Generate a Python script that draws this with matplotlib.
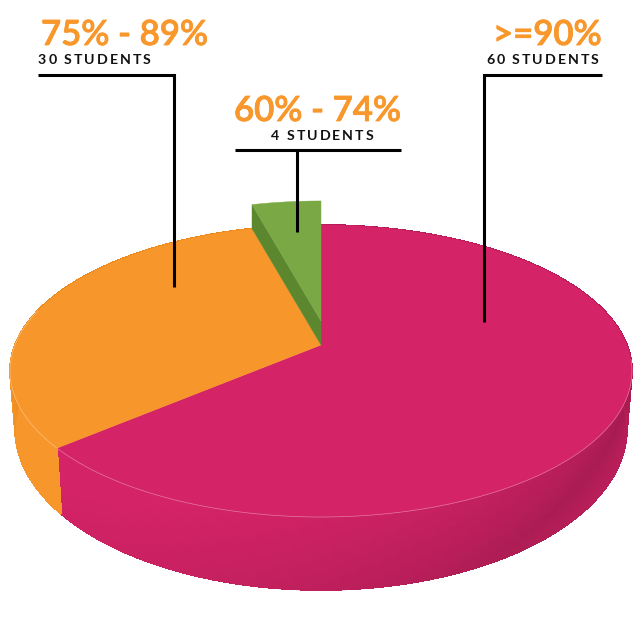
#!/usr/bin/env python3
"""Students per score band, drawn as a tilted 3D pie with a lifted slice."""
import numpy as np
import matplotlib

matplotlib.use("Agg")
import matplotlib.pyplot as plt
import matplotlib.patheffects as pe
from matplotlib.collections import LineCollection, PolyCollection
from matplotlib.colors import to_rgb
from matplotlib.text import Text

# === Data ===

BANDS = [">=90%", "75% - 89%", "60% - 74%"]
STUDENTS = [60, 30, 4]
COUNT_LABELS = ["60 STUDENTS", "30 STUDENTS", "4 STUDENTS"]

# === Style ===

CRIMSON = "#D42366"
ORANGE = "#F7962A"
GREEN = "#7AA845"
GREEN_DARK = "#5C872E"
LABEL_ORANGE = "#F8982C"

plt.rcParams["font.family"] = ["Lato", "Carlito", "DejaVu Sans"]

# perspective of the top and bottom rims, in picture pixels
APEX_X = 321
TOP = dict(b=306.0, a=141.4, y0=345.0)
BOTTOM = dict(b=301.0, a=155.9, y0=400.3)
K = 0.178
LIFT = 24


def rim(theta, b, a, y0):
    # theta is clockwise from 12 o'clock, radians
    u, v = np.sin(theta), np.cos(theta)
    d = 1 + K * v
    return APEX_X + b * u / d, y0 - a * v / d


def mix(color, other, f):
    c, o = np.array(to_rgb(color)), np.array(to_rgb(other))
    return tuple(c + (o - c) * f)


def crimson_shade(deg, t):
    # dark band runs slantwise over the wall
    eff = deg - 45 * t
    f = np.interp(eff, [60, 85, 108, 125, 160, 200], [0.7, 0.75, 1.0, 0.7, 0.3, 0.0])
    f = f * (1 - 0.2 * t)
    return mix(CRIMSON, "#A51B50", f)


def orange_shade(deg, t):
    f = np.interp(deg, [229, 255, 272, 290], [0.0, 0.0, 0.8, 1.0])
    return mix(ORANGE, "#E8871A", f)


class SpacedText(Text):
    """Single text artist with tracking, matplotlib has no letter spacing."""

    def __init__(self, x, y, text, spacing=0.0, **kw):
        super().__init__(x, y, text, **kw)
        self.spacing = spacing

    def draw(self, renderer):
        fp = self.get_fontproperties()
        x, y = self.get_transform().transform(self.get_position())
        gc = renderer.new_gc()
        gc.set_foreground(self.get_color())
        gc.set_antialiased(True)
        for ch in self.get_text():
            w, _, _ = renderer.get_text_width_height_descent(ch, fp, False)
            if ch == " ":
                w = fp.get_size_in_points() * renderer.points_to_pixels(1.0) * 0.25
            else:
                renderer.draw_text(gc, x, renderer.height - y, ch, fp, 0, False)
            x += w + self.spacing
        gc.restore()


# === Plot ===

fig = plt.figure(figsize=(6.4, 6.4), dpi=100)
ax = fig.add_axes([0, 0, 1, 1])
ax.set_xlim(0, 640)
ax.set_ylim(640, 0)
ax.axis("off")

edges = np.deg2rad(np.cumsum([0] + STUDENTS) / sum(STUDENTS) * 360)
crimson_range = (edges[0], edges[1])
orange_range = (edges[1], edges[2])
green_range = (edges[2], edges[3])

# side wall, small cells so the shading can slant
cells, cell_colors, foot, foot_colors = [], [], [], []
for (lo, hi), shade in [(crimson_range, crimson_shade), (orange_range, orange_shade)]:
    thetas = np.linspace(lo, hi, int(np.rad2deg(hi - lo) * 1.5) + 2)
    ts = np.linspace(0, 1, 13)
    for th0, th1 in zip(thetas[:-1], thetas[1:]):
        mid = np.rad2deg(th0 + th1) / 2
        for t0, t1 in zip(ts[:-1], ts[1:]):
            quad = []
            for th, t in [(th0, t0), (th1, t0), (th1, t1), (th0, t1)]:
                xt, yt = rim(th, **TOP)
                xb, yb = rim(th, **BOTTOM)
                quad.append((xt + (xb - xt) * t, yt + (yb - yt) * t))
            cells.append(quad)
            cell_colors.append(shade(mid, (t0 + t1) / 2))
        foot.append([rim(th0, **BOTTOM), rim(th1, **BOTTOM)])
        foot_colors.append(shade(mid, 1.0))
walls = PolyCollection(cells, facecolors=cell_colors, edgecolors=cell_colors,
                       linewidths=0.6, antialiaseds=False, zorder=1)
ax.add_collection(walls)
# cells are not antialiased, this smooths the lower outline
ax.add_collection(LineCollection(foot, colors=foot_colors, linewidths=0.9, zorder=1.5))

# top faces
for (lo, hi), color in [(crimson_range, CRIMSON), (orange_range, ORANGE)]:
    th = np.linspace(lo, hi, 200)
    xs, ys = rim(th, **TOP)
    ax.fill(np.r_[APEX_X, xs], np.r_[TOP["y0"], ys], color=color, lw=0.3, zorder=2)
    front = (th > np.deg2rad(95)) & (th < np.deg2rad(285))
    ax.plot(xs[front], ys[front], color=mix(color, "white", 0.4), lw=0.5, zorder=2.5)

# lifted slice
th = np.linspace(green_range[0], green_range[1], 40)
xs, ys = rim(th, **TOP)
xl, yl = rim(green_range[0], **TOP)
ax.fill([xl, APEX_X, APEX_X, xl],
        [yl, TOP["y0"], TOP["y0"] - LIFT, yl - LIFT], color=GREEN_DARK, lw=0.3, zorder=3)
ax.fill(np.r_[APEX_X, xs], np.r_[TOP["y0"] - LIFT, ys - LIFT], color=GREEN, lw=0.3, zorder=4)

# callouts
callouts = [
    ([602, 484, 484], [75, 75, 322]),
    ([38, 173.5, 173.5], [75, 75, 287]),
]
for lx, ly in callouts:
    ax.plot(lx, ly, color="black", lw=2.2, solid_joinstyle="miter",
            solid_capstyle="butt", zorder=6)
ax.plot([235, 401], [150, 150], color="black", lw=2.2, solid_capstyle="butt", zorder=6)
ax.plot([297, 297], [150, 232], color="black", lw=2.2, solid_capstyle="butt", zorder=6)

# labels
band_pos = [(602, 45, "right"), (41, 45, "left"), (234, 121, "left")]
count_pos = [(486, 64), (38, 64), (271, 140)]
for band, (x, y, ha) in zip(BANDS, band_pos):
    # Lato here has no medium cut, a thin stroke gives the weight
    ax.text(x, y, band, color=LABEL_ORANGE, fontsize=25, fontweight="semibold",
            ha=ha, va="baseline", zorder=7,
            path_effects=[pe.withStroke(linewidth=0.6, foreground=LABEL_ORANGE)])
for count, (x, y) in zip(COUNT_LABELS, count_pos):
    t = SpacedText(x, y, count, spacing=2.0, color="#111111", fontsize=10.2,
                   fontweight="bold", transform=ax.transData, zorder=7)
    ax.add_artist(t)

fig.savefig("out.png", dpi=100)
